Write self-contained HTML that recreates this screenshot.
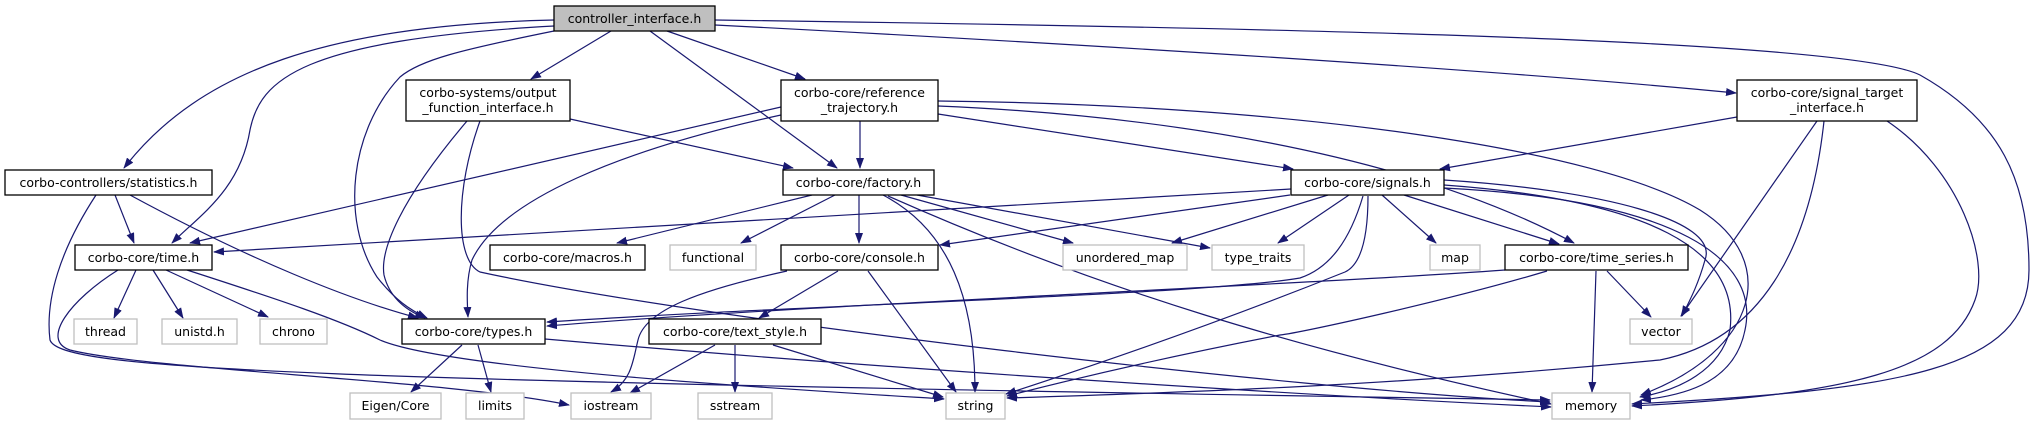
<!DOCTYPE html>
<html><head><meta charset="utf-8"><style>
html,body{margin:0;padding:0;background:#fff;}
svg{display:block;}
text{font-family:"DejaVu Sans","Liberation Sans",sans-serif;font-size:12.5px;fill:#000;}
.n{fill:#fff;stroke:#000;stroke-width:1.3;}
.g{fill:#fff;stroke:#bfbfbf;stroke-width:1.3;}
.e{fill:none;stroke:#191970;stroke-width:1.2;marker-end:url(#ar);}
</style></head><body>
<svg width="2035" height="425" viewBox="0 0 2035 425" xmlns="http://www.w3.org/2000/svg">
<defs><marker id="ar" markerUnits="userSpaceOnUse" markerWidth="11" markerHeight="8" refX="10" refY="4" orient="auto"><path d="M0,0 L11,4 L0,8 z" fill="#191970"/></marker></defs>

<!-- edges -->
<path class="e" d="M554,20 C330,25 200,70 124,168"/>
<path class="e" d="M554,26 C300,40 260,80 250,130 C240,190 200,215 172,243"/>
<path class="e" d="M554,31 C460,50 420,60 400,77 C350,130 340,220 377,277 C395,300 410,310 427,318"/>
<path class="e" d="M611,31 L531,79"/>
<path class="e" d="M650,31 L837,168"/>
<path class="e" d="M667,31 L805,79"/>
<path class="e" d="M715,25 C1100,45 1500,70 1736,93"/>
<path class="e" d="M715,20 C1300,28 1850,40 1920,75 C2000,120 2029,180 2029,270 C2029,370 1900,390 1632,404"/>
<path class="e" d="M570,119 L793,168"/>
<path class="e" d="M467,121 C400,200 380,250 384,275 C390,300 410,312 425,318"/>
<path class="e" d="M480,121 C455,190 455,260 480,272 C700,320 1300,390 1550,402"/>
<path class="e" d="M860,121 L860,168"/>
<path class="e" d="M781,107 L190,243"/>
<path class="e" d="M781,115 C620,150 500,200 472,260 C466,280 467,300 468,317"/>
<path class="e" d="M938,114 L1293,169"/>
<path class="e" d="M938,106 C1150,115 1400,150 1574,243"/>
<path class="e" d="M938,101 C1300,105 1600,150 1700,210 C1780,260 1760,350 1641,395"/>
<path class="e" d="M1737,117 L1440,169"/>
<path class="e" d="M1817,121 L1681,316"/>
<path class="e" d="M1824,121 C1810,250 1760,340 1660,360 C1400,385 1200,392 1007,398"/>
<path class="e" d="M1887,121 C1960,170 1990,260 1975,300 C1950,370 1850,395 1632,406"/>
<path class="e" d="M115,195 L134,243"/>
<path class="e" d="M130,195 C250,260 350,300 418,318"/>
<path class="e" d="M96,195 C60,250 45,300 50,340 C60,370 300,380 1550,400"/>
<path class="e" d="M118,270 C70,300 40,340 70,350 C150,370 450,380 569,405"/>
<path class="e" d="M812,195 L617,243"/>
<path class="e" d="M835,195 L741,243"/>
<path class="e" d="M859,195 L859,243"/>
<path class="e" d="M901,195 L1073,243"/>
<path class="e" d="M917,195 L1210,248"/>
<path class="e" d="M883,195 C950,230 975,300 975,392"/>
<path class="e" d="M888,196 C1100,290 1300,350 1551,404"/>
<path class="e" d="M1291,189 L214,252"/>
<path class="e" d="M1290,195 L940,245"/>
<path class="e" d="M1328,195 L1172,243"/>
<path class="e" d="M1349,195 L1278,243"/>
<path class="e" d="M1382,195 L1436,243"/>
<path class="e" d="M1404,195 L1559,244"/>
<path class="e" d="M1363,196 C1350,240 1330,268 1300,278 C1200,295 800,305 547,322"/>
<path class="e" d="M1368,196 C1368,240 1360,265 1345,272 C1200,330 1080,370 1006,394"/>
<path class="e" d="M1505,270 C1300,285 800,305 547,326"/>
<path class="e" d="M1444,180 C1600,190 1720,220 1705,260 C1698,285 1690,300 1682,316"/>
<path class="e" d="M1444,185 C1650,200 1740,250 1730,330 C1720,370 1680,390 1640,397"/>
<path class="e" d="M1444,188 C1680,200 1760,260 1745,330 C1735,380 1690,395 1641,400"/>
<path class="e" d="M136,270 L114,318"/>
<path class="e" d="M153,270 L183,318"/>
<path class="e" d="M166,270 L268,317"/>
<path class="e" d="M187,270 C280,300 340,320 380,340 C450,370 800,390 944,399"/>
<path class="e" d="M838,271 L759,318"/>
<path class="e" d="M787,271 C700,290 645,310 638,340 C633,360 632,380 611,392"/>
<path class="e" d="M868,271 L956,392"/>
<path class="e" d="M462,345 L411,392"/>
<path class="e" d="M478,345 L491,392"/>
<path class="e" d="M545,339 C900,370 1300,395 1551,407"/>
<path class="e" d="M715,345 L630,393"/>
<path class="e" d="M735,345 L735,392"/>
<path class="e" d="M773,345 L943,397"/>
<path class="e" d="M1547,271 C1450,300 1300,333 1280,335 C1150,360 1050,385 1007,396"/>
<path class="e" d="M1596,271 L1592,392"/>
<path class="e" d="M1607,271 L1651,317"/>

<!-- nodes -->
<rect x="554" y="6" width="161" height="25" fill="#bfbfbf" stroke="#000" stroke-width="1.3"/>
<text x="634.5" y="23" text-anchor="middle">controller_interface.h</text>

<rect class="n" x="406" y="80" width="164" height="41"/>
<text x="488" y="97" text-anchor="middle">corbo-systems/output</text>
<text x="488" y="112" text-anchor="middle">_function_interface.h</text>

<rect class="n" x="781" y="80" width="157" height="41"/>
<text x="859.5" y="97" text-anchor="middle">corbo-core/reference</text>
<text x="859.5" y="112" text-anchor="middle">_trajectory.h</text>

<rect class="n" x="1737" y="80" width="180" height="41"/>
<text x="1827" y="97" text-anchor="middle">corbo-core/signal_target</text>
<text x="1827" y="112" text-anchor="middle">_interface.h</text>

<rect class="n" x="5" y="170" width="207" height="25"/>
<text x="108.5" y="187" text-anchor="middle">corbo-controllers/statistics.h</text>
<rect class="n" x="783" y="170" width="151" height="25"/>
<text x="858.5" y="187" text-anchor="middle">corbo-core/factory.h</text>
<rect class="n" x="1291" y="170" width="153" height="25"/>
<text x="1367.5" y="187" text-anchor="middle">corbo-core/signals.h</text>

<rect class="n" x="75" y="245" width="137" height="25"/>
<text x="143.5" y="262" text-anchor="middle">corbo-core/time.h</text>
<rect class="n" x="490" y="245" width="155" height="25"/>
<text x="567.5" y="262" text-anchor="middle">corbo-core/macros.h</text>
<rect class="g" x="670" y="245" width="86" height="25"/>
<text x="713" y="262" text-anchor="middle">functional</text>
<rect class="n" x="781" y="245" width="157" height="25"/>
<text x="859.5" y="262" text-anchor="middle">corbo-core/console.h</text>
<rect class="g" x="1063" y="245" width="124" height="25"/>
<text x="1125" y="262" text-anchor="middle">unordered_map</text>
<rect class="g" x="1212" y="245" width="92" height="25"/>
<text x="1258" y="262" text-anchor="middle">type_traits</text>
<rect class="g" x="1430" y="245" width="50" height="25"/>
<text x="1455" y="262" text-anchor="middle">map</text>
<rect class="n" x="1505" y="245" width="183" height="25"/>
<text x="1596.5" y="262" text-anchor="middle">corbo-core/time_series.h</text>

<rect class="g" x="74" y="319" width="63" height="25"/>
<text x="105.5" y="336" text-anchor="middle">thread</text>
<rect class="g" x="162" y="319" width="75" height="25"/>
<text x="199.5" y="336" text-anchor="middle">unistd.h</text>
<rect class="g" x="260" y="319" width="67" height="25"/>
<text x="293.5" y="336" text-anchor="middle">chrono</text>
<rect class="n" x="402" y="319" width="143" height="25"/>
<text x="473.5" y="336" text-anchor="middle">corbo-core/types.h</text>
<rect class="n" x="649" y="319" width="172" height="25"/>
<text x="735" y="336" text-anchor="middle">corbo-core/text_style.h</text>
<rect class="g" x="1630" y="319" width="62" height="25"/>
<text x="1661" y="336" text-anchor="middle">vector</text>

<rect class="g" x="350" y="393" width="91" height="26"/>
<text x="395.5" y="410" text-anchor="middle">Eigen/Core</text>
<rect class="g" x="466" y="393" width="58" height="26"/>
<text x="495" y="410" text-anchor="middle">limits</text>
<rect class="g" x="571" y="393" width="80" height="26"/>
<text x="611" y="410" text-anchor="middle">iostream</text>
<rect class="g" x="698" y="393" width="74" height="26"/>
<text x="735" y="410" text-anchor="middle">sstream</text>
<rect class="g" x="946" y="393" width="59" height="26"/>
<text x="975.5" y="410" text-anchor="middle">string</text>
<rect class="g" x="1552" y="393" width="78" height="26"/>
<text x="1591" y="410" text-anchor="middle">memory</text>
</svg>
</body></html>
